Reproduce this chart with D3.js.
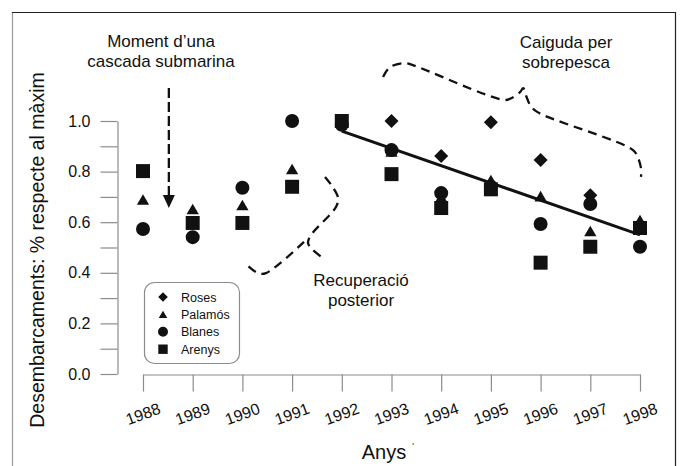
<!DOCTYPE html>
<html>
<head>
<meta charset="utf-8">
<script src="https://cdn.jsdelivr.net/npm/d3@7"></script>
<style>
  html, body { margin: 0; padding: 0; background: #fff; }
  svg { display: block; }
  text { font-family: "Liberation Sans", Arial, Helvetica, sans-serif; fill: #111; }
</style>
</head>
<body>
<svg id="chart" width="683" height="466"></svg>
<script>
// ---- data ----
const years = [1988, 1989, 1990, 1991, 1992, 1993, 1994, 1995, 1996, 1997, 1998];
const roses   = [null, null, null, null, null, 1.00, 0.862, 0.995, 0.846, 0.707, 0.58];
const palamos = [0.69, 0.652, 0.668, 0.81, 1.00, 0.88, 0.70, 0.767, 0.703, 0.565, 0.609];
const blanes  = [0.573, 0.541, 0.736, 1.00, 0.985, 0.885, 0.715, 0.74, 0.593, 0.672, 0.503];
const arenys  = [0.802, 0.597, 0.597, 0.74, 1.00, 0.79, 0.656, 0.73, 0.44, 0.503, 0.577];
const seriesNames = ["Roses", "Palamós", "Blanes", "Arenys"];
const seriesShapes = ["diamond", "triangle", "circle", "square"];
const trendYears = [1992, 1998];
const trendValues = [0.96, 0.55];
const yTicks = [0, 0.1, 0.2, 0.3, 0.4, 0.5, 0.6, 0.7, 0.8, 0.9, 1.0];
const yLabelTicks = [0, 0.2, 0.4, 0.6, 0.8, 1.0];
const xTickLabels = ["1988","1989","1990","1991","1992","1993","1994","1995","1996","1997","1998"];

// annotation paths in data space
const arrowYear = 1988.52, arrowFrom = 1.13, arrowTip = 0.656;
const topBracket = [[1992.83,1.174],[1992.97,1.213],[1993.27,1.229],[1993.43,1.221],[1995.28,1.083],[1995.42,1.091],[1995.59,1.115],[1995.65,1.130],[1995.71,1.099],[1995.79,1.063],[1995.93,1.036],[1997.86,0.885],[1997.96,0.854],[1998.02,0.814],[1998.02,0.779]];
const braceUpper = [[1991.662,0.779],[1991.803,0.743],[1991.924,0.696],[1991.883,0.660],[1991.38,0.549],[1991.32,0.518],[1991.40,0.494],[1991.622,0.458]];
const braceLower = [[1991.239,0.522],[1990.475,0.399],[1990.314,0.399],[1990.093,0.431]];

const seriesValues = [roses, palamos, blanes, arenys];

// ---- setup ----
const svg = d3.select("#chart");
const x = d3.scaleLinear().domain([1988, 1998]).range([143, 640]);
const y = d3.scaleLinear().domain([0, 1]).range([374, 121]);
const ink = "#111";
const axisGrey = "#8c8c8c";

// frame
svg.append("line").attr("x1", 12.5).attr("x2", 12.5).attr("y1", 12).attr("y2", 466).attr("stroke", "#9a9a9a").attr("stroke-width", 1.2);
svg.append("line").attr("x1", 12).attr("x2", 676).attr("y1", 12.5).attr("y2", 12.5).attr("stroke", "#222").attr("stroke-width", 1.2);
svg.append("line").attr("x1", 675.5).attr("x2", 675.5).attr("y1", 12).attr("y2", 466).attr("stroke", "#222").attr("stroke-width", 1.2);

// y axis
const yAxis = d3.axisLeft(y).tickValues(yTicks).tickSize(17).tickSizeOuter(0).tickPadding(10)
  .tickFormat(d => yLabelTicks.some(v => Math.abs(v - d) < 1e-9) ? d3.format(".1f")(d) : "");
const gy = svg.append("g").attr("transform", "translate(117.5,0)").call(yAxis);
gy.selectAll("path,line").attr("stroke", axisGrey).attr("stroke-width", 1.2);
gy.selectAll("text").style("font-family", "'Liberation Sans', Arial, sans-serif").style("font-size", "16px").attr("fill", "#222");

// x axis
const xAxis = d3.axisBottom(x).tickValues(years).tickSize(17).tickSizeOuter(0).tickFormat("");
const gx = svg.append("g").attr("transform", "translate(0,374.5)").call(xAxis);
gx.selectAll("path,line").attr("stroke", axisGrey).attr("stroke-width", 1.2);
svg.append("g").selectAll("text").data(years).join("text")
  .attr("transform", (d) => `translate(${x(d)},414) rotate(-20)`)
  .attr("text-anchor", "middle").attr("dominant-baseline", "central")
  .style("font-size", "16px").attr("fill", "#222")
  .text((d, i) => xTickLabels[i]);

// axis titles
svg.append("text").attr("transform", "translate(44,250) rotate(-90)").attr("text-anchor", "middle")
  .style("font-size", "19.5px").text("Desembarcaments: % respecte al màxim");
svg.append("text").attr("x", 384).attr("y", 459).attr("text-anchor", "middle").style("font-size", "20px").text("Anys");
svg.append("text").attr("x", 413).attr("y", 449).attr("text-anchor", "middle").style("font-size", "9px").attr("fill", "#aaa").text("'");

// symbols
function symbolPath(shape, cx, cy, s) {
  if (shape === "circle") return `M${cx - s},${cy}a${s},${s} 0 1,0 ${2*s},0a${s},${s} 0 1,0 ${-2*s},0Z`;
  if (shape === "square") return `M${cx - s},${cy - s}h${2*s}v${2*s}h${-2*s}Z`;
  if (shape === "diamond") return `M${cx},${cy - s}L${cx + s},${cy}L${cx},${cy + s}L${cx - s},${cy}Z`;
  const h = s * 1.6;
  return `M${cx},${cy - h/2}L${cx + s*0.93},${cy + h/2}L${cx - s*0.93},${cy + h/2}Z`;
}
const markSize = { circle: 7, square: 7, diamond: 7, triangle: 6.6 };
const legendSize = { circle: 5, square: 4.7, diamond: 4.8, triangle: 4.6 };

// trend line
svg.append("path")
  .attr("d", d3.line().x(d => x(d[0])).y(d => y(d[1]))(trendYears.map((t, i) => [t, trendValues[i]])))
  .attr("stroke", ink).attr("stroke-width", 3).attr("fill", "none");

// points
const gPts = svg.append("g");
seriesValues.forEach((vals, si) => {
  const shape = seriesShapes[si];
  gPts.append("g").selectAll("path")
    .data(years.map((yr, i) => ({ yr, v: vals[i] })).filter(d => d.v != null))
    .join("path")
    .attr("d", d => symbolPath(shape, x(d.yr), y(d.v), markSize[shape]))
    .attr("fill", ink);
});

// annotations
const dash = "9,6";
const line = d3.line().x(d => x(d[0])).y(d => y(d[1])).curve(d3.curveCatmullRom.alpha(0.5));
[topBracket, braceUpper, braceLower].forEach(pts => {
  svg.append("path").attr("d", line(pts)).attr("fill", "none").attr("stroke", ink)
    .attr("stroke-width", 2.3).attr("stroke-dasharray", dash);
});

// dashed arrow
const ax = x(arrowYear);
svg.append("line").attr("x1", ax).attr("x2", ax).attr("y1", y(arrowFrom)).attr("y2", y(arrowTip) - 13)
  .attr("stroke", ink).attr("stroke-width", 2.3).attr("stroke-dasharray", "10,4");
svg.append("path").attr("d", `M${ax - 6},${y(arrowTip) - 13}L${ax + 6},${y(arrowTip) - 13}L${ax},${y(arrowTip)}Z`).attr("fill", ink);

// annotation texts
function label(lines, cx, y0) {
  lines.forEach((t, i) => svg.append("text").attr("x", cx).attr("y", y0 + i * 20).attr("text-anchor", "middle").style("font-size", "17px").text(t));
}
label(["Moment d’una", "cascada submarina"], 161, 47);
label(["Caiguda per", "sobrepesca"], 566, 48);
label(["Recuperació", "posterior"], 361, 286);

// legend
const lg = svg.append("g");
lg.append("rect").attr("x", 144.5).attr("y", 282.5).attr("width", 95).attr("height", 81).attr("rx", 10).attr("ry", 10)
  .attr("fill", "#fff").attr("stroke", "#8c8c8c").attr("stroke-width", 1.2);
seriesNames.forEach((n, i) => {
  const yy = 297 + i * 17.4;
  const shape = seriesShapes[i];
  lg.append("path").attr("d", symbolPath(shape, 163, yy, legendSize[shape])).attr("fill", ink);
  lg.append("text").attr("x", 181).attr("y", yy + 4.5).style("font-size", "12.5px").text(n);
});
</script>
</body>
</html>
